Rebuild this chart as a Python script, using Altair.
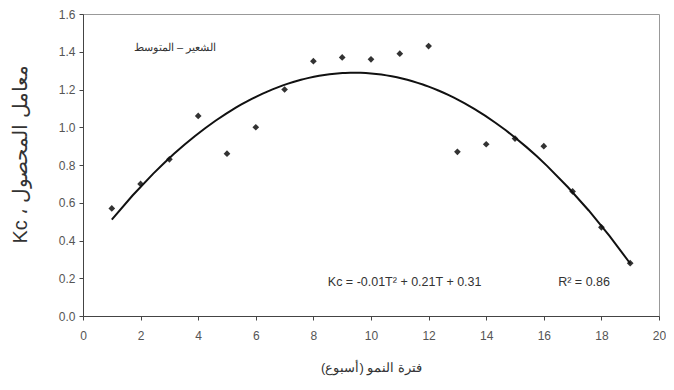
import altair as alt
import pandas as pd

weeks = [1, 2, 3, 4, 5, 6, 7, 8, 9, 10, 11, 12, 13, 14, 15, 16, 17, 18, 19]
kc = [0.57, 0.70, 0.83, 1.06, 0.86, 1.00, 1.20, 1.35, 1.37, 1.36, 1.39, 1.43,
      0.87, 0.91, 0.94, 0.90, 0.66, 0.47, 0.28]

x_ticks = [0, 2, 4, 6, 8, 10, 12, 14, 16, 18, 20]
y_ticks = [0.0, 0.2, 0.4, 0.6, 0.8, 1.0, 1.2, 1.4, 1.6]

x_title = "فترة النمو (أسبوع)\u200f"
y_title = "Kc ، معامل المحصول"

series_label = ["الشعير – المتوسط"]
series_label_x = [3.2]
series_label_y = [1.42]

eq_text = ["Kc = -0.01T² + 0.21T + 0.31", "R² = 0.86"]
eq_x = [8.5, 16.5]
eq_y = [0.18, 0.18]

df = pd.DataFrame({"week": weeks, "kc": kc})
lab_df = pd.DataFrame({"t": series_label, "x": series_label_x, "y": series_label_y})
eq_df = pd.DataFrame({"t": eq_text, "x": eq_x, "y": eq_y})

xs = alt.Scale(domain=[0, 20], nice=False)
ys = alt.Scale(domain=[0, 1.6], nice=False)

x_axis = alt.Axis(values=x_ticks, format="d", grid=False, title=x_title,
                  titleFont="Liberation Sans", titleFontSize=13, titleFontWeight="normal",
                  titleColor="#333", titlePadding=20, labelPadding=10,
                  labelOverlap=False, labelFlush=False,
                  labelFont="Liberation Sans", labelFontSize=12, labelColor="#555",
                  domainColor="#444", tickColor="#444", tickSize=4)
y_axis = alt.Axis(values=y_ticks, format=".1f", grid=False, title=y_title,
                  titleFont="Liberation Sans", titleFontSize=20, titleFontWeight="normal",
                  titleColor="#333", titlePadding=28, labelPadding=4, titleY=140,
                  labelOverlap=False, labelFlush=False, tickCount=9,
                  labelFont="Liberation Sans", labelFontSize=12, labelColor="#555",
                  domainColor="#444", tickColor="#444", tickSize=4)

X = alt.X("week:Q", scale=xs, axis=x_axis)
Y = alt.Y("kc:Q", scale=ys, axis=y_axis)

points = alt.Chart(df).mark_point(shape="diamond", filled=True, color="#333", size=45, opacity=1).encode(
    x=X, y=Y,
)

curve = alt.Chart(df).transform_regression(
    "week", "kc", method="poly", order=2
).mark_line(color="#111", strokeWidth=2).encode(
    x=X, y=Y,
)

series_text = alt.Chart(lab_df).mark_text(font="Liberation Sans", fontSize=11, color="#333", align="center").encode(
    x=alt.X("x:Q", scale=xs, axis=x_axis),
    y=alt.Y("y:Q", scale=ys, axis=y_axis),
    text="t:N",
)

eq_labels = alt.Chart(eq_df).mark_text(font="Liberation Sans", fontSize=12.5, color="#333", align="left").encode(
    x=alt.X("x:Q", scale=xs, axis=x_axis),
    y=alt.Y("y:Q", scale=ys, axis=y_axis),
    text="t:N",
)

chart = alt.layer(points, curve, series_text, eq_labels).properties(
    width=576, height=302,
    autosize=alt.AutoSizeParams(type="none"),
    padding={"left": 75, "top": 6, "right": 7, "bottom": 66},
    background="white",
).configure_view(stroke="#999", strokeWidth=1)

chart.save("out.html", embed_options={"renderer": "svg", "actions": False})
